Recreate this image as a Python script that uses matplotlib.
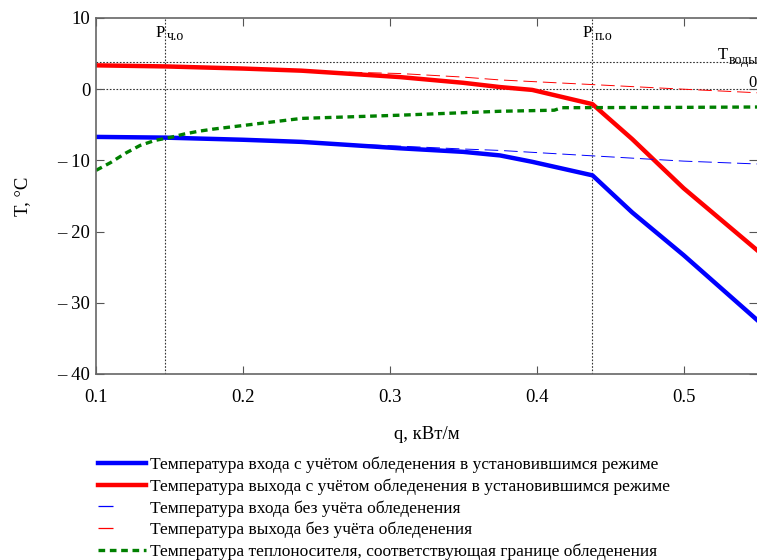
import matplotlib.pyplot as plt
from matplotlib.lines import Line2D

plt.rcParams['font.family'] = ['Liberation Serif', 'DejaVu Serif']

# heat load, kW/m
q_thick = [0.1, 0.147, 0.2, 0.24, 0.27, 0.307, 0.35, 0.375, 0.397, 0.438, 0.465, 0.5, 0.55]
t_in_ice = [-6.7, -6.8, -7.1, -7.4, -7.8, -8.3, -8.8, -9.3, -10.2, -12.1, -17.3, -23.3, -32.4]
t_out_ice = [3.35, 3.2, 2.9, 2.6, 2.2, 1.7, 0.9, 0.3, -0.1, -2.1, -7.0, -13.9, -22.6]

q_thin = [0.1, 0.15, 0.2, 0.24, 0.27, 0.307, 0.35, 0.375, 0.433, 0.5, 0.55]
t_in_free = [-6.7, -6.8, -7.1, -7.4, -7.7, -8.0, -8.4, -8.6, -9.3, -10.1, -10.5]
t_out_free = [3.35, 3.2, 2.9, 2.6, 2.4, 2.2, 1.7, 1.3, 0.7, 0.0, -0.5]

q_bound = [0.1, 0.11, 0.12, 0.13, 0.14, 0.15, 0.16, 0.17, 0.18, 0.2,
           0.22, 0.24, 0.27, 0.307, 0.35, 0.375, 0.412, 0.417, 0.5, 0.55]
t_bound = [-11.4, -10.3, -9.0, -7.9, -7.2, -6.8, -6.3, -5.9, -5.6, -5.1,
           -4.6, -4.1, -3.9, -3.65, -3.3, -3.1, -2.95, -2.6, -2.55, -2.5]

q_start = 0.147   # начало обледенения
q_full = 0.438    # полное обледенение
t_water = 3.85

labels = [
    'Температура входа с учётом обледенения в установившимся режиме',
    'Температура выхода с учётом обледенения в установившимся режиме',
    'Температура входа без учёта обледенения',
    'Температура выхода без учёта обледенения',
    'Температура теплоносителя, соответствующая границе обледенения',
]

fig = plt.figure(figsize=(7.57, 5.6), dpi=100)
ax = fig.add_axes([96 / 757, 1 - 374 / 560, 661 / 757, 356 / 560])

ax.plot(q_thick, t_in_ice, color='#0000ff', lw=3.2)
ax.plot(q_thick, t_out_ice, color='#ff0000', lw=3.2)
ax.plot(q_thin, t_in_free, color='#0000ff', lw=0.7, dashes=(14, 6))
ax.plot(q_thin, t_out_free, color='#ff0000', lw=0.7, dashes=(14, 6))
ax.plot(q_bound, t_bound, color='#008000', lw=2.4, dashes=(2, 1.4))

# reference lines
for xv in (q_start, q_full):
    ax.axvline(xv, color='#333333', lw=0.8, ls=(0, (1.5, 1.5)), zorder=0)
for yv in (0, t_water):
    ax.axhline(yv, color='#333333', lw=0.8, ls=(0, (1.5, 1.5)), zorder=0)

ax.text(q_start - 0.0065, 7.4, 'P', fontsize=12, ha='left', va='baseline')
ax.text(q_start + 0.0012, 6.9, 'ч.о', fontsize=10, ha='left', va='baseline')
ax.text(q_full - 0.0065, 7.4, 'P', fontsize=12, ha='left', va='baseline')
ax.text(q_full + 0.0012, 6.9, 'п.о', fontsize=10, ha='left', va='baseline')
ax.text(0.5235, 4.2, 'T', fontsize=12, ha='left', va='baseline')
ax.text(0.5305, 3.6, 'воды', fontsize=10, ha='left', va='baseline')
ax.text(0.5438, 0.3, '0', fontsize=12, ha='left', va='baseline')

ax.set_xlim(0.1, 0.55)
ax.set_ylim(-40, 10)
ax.set_xticks([0.1, 0.2, 0.3, 0.4, 0.5])
ax.set_xticklabels(['0.1', '0.2', '0.3', '0.4', '0.5'])
yt = [-40, -30, -20, -10, 0, 10]
ax.set_yticks(yt)
ax.set_yticklabels([('– %d' % -v) if v < 0 else str(v) for v in yt])
ax.tick_params(direction='in', length=6, width=0.8, color='#555555',
               top=True, right=True, labelsize=13.5)
ax.tick_params(axis='x', pad=11)
ax.tick_params(axis='y', pad=4)
for side in ('left', 'bottom', 'top'):
    ax.spines[side].set_color('#666666')
    ax.spines[side].set_linewidth(1.2)
ax.spines['right'].set_visible(False)

ax.set_xlabel('q, кВт/м', fontsize=13.5, labelpad=14)
ax.set_ylabel('T, °C', fontsize=13.5, labelpad=19)

# legend handles: thin lines show a single short dash
handles = [
    Line2D([], [], color='#0000ff', lw=3.2),
    Line2D([], [], color='#ff0000', lw=3.2),
    Line2D([], [], color='#0000ff', lw=0.9, dashes=(12, 40)),
    Line2D([], [], color='#ff0000', lw=0.9, dashes=(12, 40)),
    Line2D([], [], color='#008000', lw=2.4, dashes=(2, 1.4)),
]
fig.legend(handles, labels, loc='upper left',
           bbox_to_anchor=(91 / 757, 1 - 450 / 560), frameon=False,
           fontsize=12.5, handlelength=2.75, handletextpad=0.25,
           labelspacing=0.29, borderaxespad=0)

fig.savefig('out.png', dpi=100)
